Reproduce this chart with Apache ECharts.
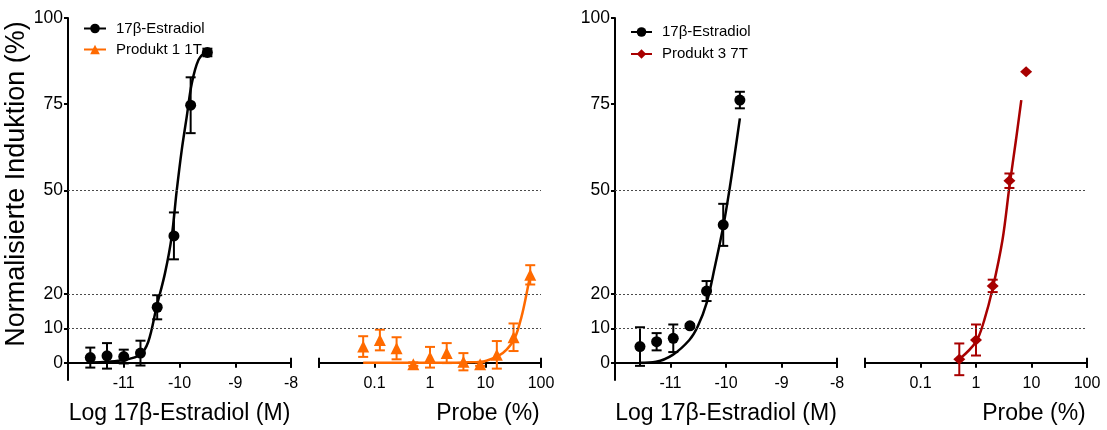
<!DOCTYPE html>
<html>
<head>
<meta charset="utf-8">
<script src="https://cdn.jsdelivr.net/npm/echarts@6/dist/echarts.min.js"></script>
<style>
  html, body { margin: 0; padding: 0; background: #ffffff; }
  #chart { width: 1107px; height: 430px; }
</style>
</head>
<body>
<div id="chart"></div>
<script>
// ---- Panel A: 17β-Estradiol reference (log molar) ----
const e2LogA = [-11.6, -11.3, -11.0, -10.7, -10.4, -10.1, -9.8, -9.5];
const e2MeanA = [1.5, 2.0, 1.8, 2.8, 16.1, 36.8, 74.7, 90.0];
const e2SemA = [2.9, 3.7, 2.0, 3.6, 3.5, 6.8, 8.1, 1.1];
// fitted dose-response curve, panel A
const e2FitLogA = [-11.6, -11.3, -11.0, -10.71, -10.56, -10.41, -10.26, -10.14, -10.05, -9.96, -9.87, -9.78, -9.66, -9.51];
const e2FitA = [0.1, 0.3, 0.8, 2.3, 6.1, 16.3, 26.0, 36.6, 49.9, 61.7, 71.4, 81.0, 87.8, 90.7];

// ---- Panel A: Produkt 1 1T (% Probe) ----
const probeA = [0.0625, 0.125, 0.25, 0.5, 1, 2, 4, 8, 16, 32, 64];
const p1Mean = [4.7, 6.6, 4.2, -0.4, 1.6, 2.8, 0.3, -0.4, 2.3, 7.4, 25.5];
const p1Sem = [3.0, 3.0, 3.2, 0.5, 3.0, 2.9, 2.5, 0.5, 4.0, 4.0, 2.8];
const p1FitX = [0.0625, 1, 4, 9.1, 17, 24, 33.8, 44.6, 55.2, 64];
const p1Fit = [0, 0, 0.1, 0.4, 2.0, 3.8, 7.2, 13.4, 20.2, 25.5];

// ---- Panel B: 17β-Estradiol reference (log molar) ----
const e2LogB = [-11.55, -11.25, -10.95, -10.65, -10.35, -10.05, -9.75];
const e2MeanB = [4.7, 6.1, 7.1, 10.7, 20.8, 40.0, 76.2];
const e2SemB = [5.6, 2.5, 4.0, 0.5, 2.9, 6.1, 2.4];
const e2FitLogB = [-11.56, -11.26, -10.96, -10.66, -10.51, -10.35, -10.2, -10.05, -9.93, -9.84, -9.75];
const e2FitB = [0, 0.3, 2.3, 6.6, 10.5, 17.3, 27.9, 39.5, 51.0, 60.8, 70.9];

// ---- Panel B: Produkt 3 7T (% Probe) ----
const probeB = [0.5, 1, 2, 4, 8];
const p3Mean = [1.0, 6.6, 22.3, 52.8, 84.4];
const p3Sem = [4.6, 4.5, 1.8, 2.1, 0];
const p3FitX = [0.5, 1, 1.41, 2, 3, 4, 5.25, 6.55];
const p3Fit = [1.0, 6.1, 12.4, 21.6, 35.6, 51.1, 64.6, 76.2];

// ---- axis ticks and reference levels ----
const yTicks = [0, 10, 20, 50, 75, 100];
const e2Ticks = [-11, -10, -9, -8];
const refLevels = [10, 20, 50];

const FONT = '"Liberation Sans", Arial, Helvetica, sans-serif';
const BLACK = '#000000';
const ORANGE = '#FF6A00';
const DARKRED = '#A80000';
const E2_NAME = '17\u03B2-Estradiol';

const chart = echarts.init(document.getElementById('chart'), null, { renderer: 'canvas' });

const axisLineStyle = { color: BLACK, width: 2 };

// grid 0/3: dashed reference lines spanning both halves of a panel
// grid 1/4: log molar half, grid 2/5: % Probe half
const grids = [
  { left: 68, width: 473 },
  { left: 68, width: 223 },
  { left: 319, width: 222 },
  { left: 615, width: 472 },
  { left: 615, width: 222 },
  { left: 865, width: 222 }
].map(g => Object.assign({ top: 18, height: 362, containLabel: false, outerBoundsMode: 'none' }, g));

function hiddenX(i) {
  return { gridIndex: i, type: 'value', min: 0, max: 1, show: false };
}
function hiddenY(i) {
  return { gridIndex: i, type: 'value', min: -5, max: 100, show: false };
}
function visibleY(i, withName) {
  const ax = {
    gridIndex: i, type: 'value', min: -5, max: 100,
    axisLine: { show: true, onZero: false, lineStyle: axisLineStyle },
    axisTick: { show: true, customValues: yTicks, length: 4, lineStyle: { color: BLACK, width: 2 } },
    axisLabel: { customValues: yTicks, fontSize: 17.5, color: BLACK, margin: 5, fontFamily: FONT },
    splitLine: { show: false }
  };
  if (withName) {
    ax.name = 'Normalisierte Induktion (%)';
    ax.nameLocation = 'middle';
    ax.nameRotate = 90;
    ax.nameGap = 37;
    ax.nameTextStyle = { fontSize: 27, color: BLACK, fontFamily: FONT, padding: [0, 0, 0, 30] };
  }
  return ax;
}
// x labels/names are offset from the grid bottom (value -5), the axis line itself sits at 0
function e2X(i) {
  return {
    gridIndex: i, type: 'value', min: -12, max: -8, interval: 1,
    axisLine: { show: true, onZero: true, lineStyle: axisLineStyle, symbol: ['none', 'rect'], symbolSize: [10, 2] },
    axisTick: { show: true, customValues: e2Ticks, length: 5, lineStyle: { color: BLACK, width: 2 } },
    axisLabel: { customValues: e2Ticks, fontSize: 16, color: BLACK, margin: -4, fontFamily: FONT },
    splitLine: { show: false },
    name: 'Log 17\u03B2-Estradiol (M)', nameLocation: 'middle', nameGap: 22,
    nameTextStyle: { fontSize: 23, color: BLACK, fontFamily: FONT }
  };
}
function probeX(i) {
  return {
    gridIndex: i, type: 'log', logBase: 10, min: 0.01, max: 100,
    axisLine: { show: true, onZero: true, lineStyle: axisLineStyle, symbol: ['rect', 'rect'], symbolSize: [10, 2] },
    axisTick: { show: true, length: 5, lineStyle: { color: BLACK, width: 2 } },
    axisLabel: {
      fontSize: 16, color: BLACK, margin: -4, fontFamily: FONT,
      formatter: v => (v < 0.05 ? '' : String(+v.toPrecision(6)))
    },
    splitLine: { show: false }, minorTick: { show: false },
    name: 'Probe (%)', nameLocation: 'middle', nameGap: 22,
    nameTextStyle: { fontSize: 23, color: BLACK, fontFamily: FONT, padding: [0, 0, 0, 116] }
  };
}

function refLineSeries(i) {
  return {
    type: 'line', xAxisIndex: i, yAxisIndex: i, data: [], silent: true, z: 1,
    markLine: {
      silent: true, symbol: ['none', 'none'], label: { show: false },
      lineStyle: { type: [2, 2], color: '#4a4a4a', width: 1 },
      emphasis: { disabled: true },
      data: refLevels.map(v => ({ yAxis: v }))
    }
  };
}
function fitSeries(name, i, xs, ys, color, symbol) {
  return {
    type: 'line', name, xAxisIndex: i, yAxisIndex: i,
    data: xs.map((x, k) => [x, ys[k]]),
    smooth: 0.35, showSymbol: false, symbol, symbolSize: 10,
    color, itemStyle: { color }, lineStyle: { color, width: 2.5 },
    silent: true, clip: false, z: 3
  };
}
function pointSeries(name, i, xs, ys, color, symbol, size) {
  return {
    type: 'scatter', name, xAxisIndex: i, yAxisIndex: i,
    data: xs.map((x, k) => [x, ys[k]]),
    symbol, symbolSize: size, itemStyle: { color, opacity: 1 },
    silent: true, clip: false, z: 5
  };
}
function errorSeries(name, i, xs, ys, es, color) {
  return {
    type: 'custom', name, xAxisIndex: i, yAxisIndex: i,
    data: xs.map((x, k) => [x, ys[k], es[k]]),
    encode: { x: 0, y: 1 }, silent: true, clip: false, z: 4,
    renderItem: function (params, api) {
      const x = api.value(0), y = api.value(1), e = api.value(2);
      if (!(e > 0)) return null;
      const top = api.coord([x, y + e]);
      const bot = api.coord([x, y - e]);
      const hw = 5;
      const style = { stroke: color, lineWidth: 2 };
      return {
        type: 'group',
        children: [
          { type: 'line', shape: { x1: top[0], y1: top[1], x2: bot[0], y2: bot[1] }, style },
          { type: 'line', shape: { x1: top[0] - hw, y1: top[1], x2: top[0] + hw, y2: top[1] }, style },
          { type: 'line', shape: { x1: bot[0] - hw, y1: bot[1], x2: bot[0] + hw, y2: bot[1] }, style }
        ]
      };
    }
  };
}

const option = {
  animation: false,
  backgroundColor: '#ffffff',
  textStyle: { fontFamily: FONT, color: BLACK },
  grid: grids,
  xAxis: [hiddenX(0), e2X(1), probeX(2), hiddenX(3), e2X(4), probeX(5)],
  yAxis: [hiddenY(0), visibleY(1, true), hiddenY(2), hiddenY(3), visibleY(4, false), hiddenY(5)],
  legend: [
    {
      left: 78, top: 16, orient: 'vertical', itemWidth: 22, itemHeight: 12, itemGap: 6,
      selectedMode: false, data: [E2_NAME, 'Produkt 1 1T'],
      textStyle: { fontSize: 15, color: BLACK, fontFamily: FONT, padding: [0, 0, 0, 5] }
    },
    {
      left: 625, top: 19.5, orient: 'vertical', itemWidth: 21, itemHeight: 12, itemGap: 7,
      selectedMode: false, data: [E2_NAME, 'Produkt 3 7T'],
      textStyle: { fontSize: 15, color: BLACK, fontFamily: FONT, padding: [0, 0, 0, 5] }
    }
  ],
  series: [
    fitSeries(E2_NAME, 1, e2FitLogA, e2FitA, BLACK, 'circle'),
    fitSeries('Produkt 1 1T', 2, p1FitX, p1Fit, ORANGE, 'triangle'),
    fitSeries(E2_NAME, 4, e2FitLogB, e2FitB, BLACK, 'circle'),
    fitSeries('Produkt 3 7T', 5, p3FitX, p3Fit, DARKRED, 'diamond'),
    refLineSeries(0),
    refLineSeries(3),
    errorSeries(E2_NAME, 1, e2LogA, e2MeanA, e2SemA, BLACK),
    errorSeries('Produkt 1 1T', 2, probeA, p1Mean, p1Sem, ORANGE),
    errorSeries(E2_NAME, 4, e2LogB, e2MeanB, e2SemB, BLACK),
    errorSeries('Produkt 3 7T', 5, probeB, p3Mean, p3Sem, DARKRED),
    pointSeries(E2_NAME, 1, e2LogA, e2MeanA, BLACK, 'circle', 11),
    pointSeries('Produkt 1 1T', 2, probeA, p1Mean, ORANGE, 'triangle', 12),
    pointSeries(E2_NAME, 4, e2LogB, e2MeanB, BLACK, 'circle', 11),
    pointSeries('Produkt 3 7T', 5, probeB, p3Mean, DARKRED, 'diamond', [12, 11])
  ]
};

chart.setOption(option);
</script>
</body>
</html>
